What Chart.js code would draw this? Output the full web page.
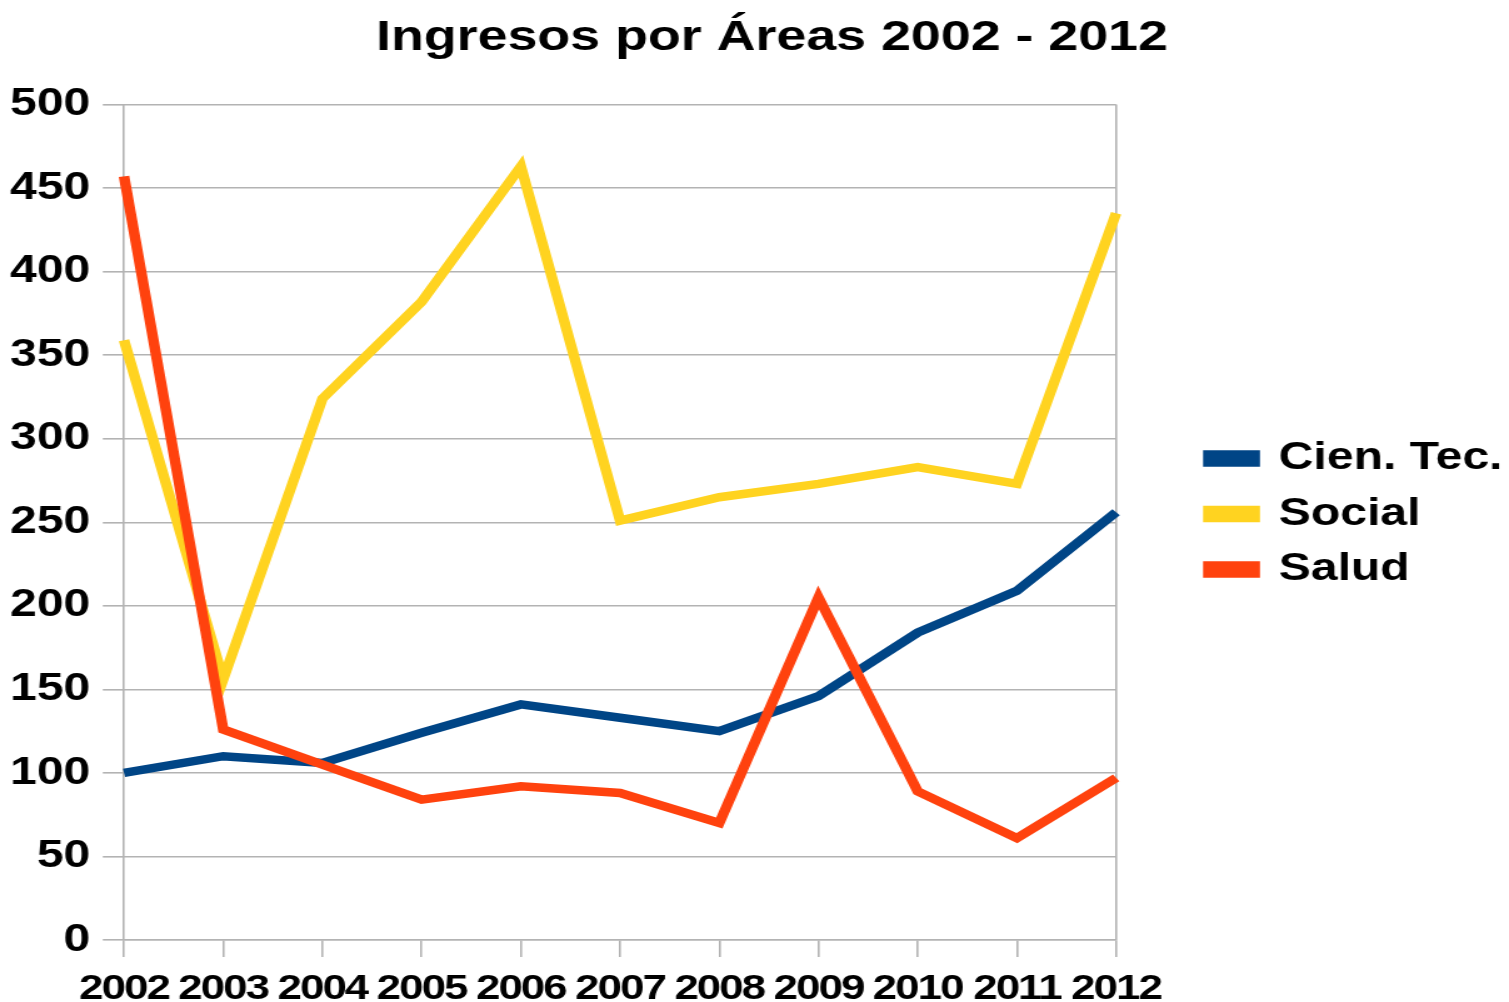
<!DOCTYPE html>
<html>
<head>
<meta charset="utf-8">
<script src="https://cdn.jsdelivr.net/npm/chart.js@4"></script>
<style>
html,body{margin:0;padding:0;background:#fff;overflow:hidden;}
canvas{display:block;}
</style>
</head>
<body>
<!-- the reference is a horizontally stretched image, so draw narrow and stretch with css -->
<canvas id="ingresosChart" width="1207" height="1002" style="width:1509px;height:1002px;"></canvas>
<script>
const years=["2002","2003","2004","2005","2006","2007","2008","2009","2010","2011","2012"];
const cienTec=[100,110,106,124,141,133,125,146,184,209,256];
const social=[359,156,324,382,463,251,265,273,283,273,435];
const salud=[457,126,105,84,92,88,70,205,89,61,97];
const yTicks=[0,50,100,150,200,250,300,350,400,450,500];

const gridGray="#b3b3b3";
const font="'Liberation Sans', Arial, sans-serif";

// nudge the title so it sits where the reference has it
const titleShift={
id:"titleShift",
afterLayout(chart){
const t=chart.titleBlock;
if(t){t.left+=11.6;t.right+=11.6;}
}
};

// x labels are not stretched in the reference, squeeze them a little
const xLabelSqueeze={
id:"xLabelSqueeze",
beforeDraw(chart){chart.ctx.letterSpacing="0px";},
afterDatasetsDraw(chart){chart.ctx.letterSpacing="-1.5px";},
afterDraw(chart){chart.ctx.letterSpacing="0px";}
};

const chart=new Chart(
document.getElementById("ingresosChart"),
{
type:"line",
data:{
labels:years,
datasets:[
{label:"Cien. Tec.",data:cienTec,borderColor:"#004586",backgroundColor:"#004586",order:3},
{label:"Social",data:social,borderColor:"#ffd320",backgroundColor:"#ffd320",order:2},
{label:"Salud",data:salud,borderColor:"#ff420e",backgroundColor:"#ff420e",order:1}
]
},
plugins:[titleShift,xLabelSqueeze],
options:{
responsive:false,
animation:false,
devicePixelRatio:1,
layout:{padding:{left:0,right:-4.8,top:0,bottom:-20}},
elements:{
line:{borderWidth:8.5,tension:0,borderCapStyle:"butt"},
point:{radius:0,hoverRadius:0}
},
plugins:{
title:{
display:true,
text:"Ingresos por Áreas 2002 - 2012",
color:"#000",
font:{family:font,size:43,weight:"bold",lineHeight:1.2},
padding:{top:12,bottom:41}
},
legend:{
position:"right",
title:{display:true,text:" ",font:{size:1},padding:{top:0,bottom:5}},
labels:{
color:"#000",
font:{family:font,size:38.5,weight:"bold"},
boxWidth:37,
boxHeight:8,
padding:17,
sort:(a,b)=>a.datasetIndex-b.datasetIndex
}
},
tooltip:{enabled:false}
},
scales:{
x:{
offset:false,
grid:{
color:(c)=>(c.index===0||c.index===years.length-1)?gridGray:"rgba(0,0,0,0)",
tickColor:gridGray,
tickLength:17,
lineWidth:1.6
},
border:{display:true,color:gridGray,width:1.6},
ticks:{
z:1,
color:"#000",
font:{family:font,size:35,weight:"bold",lineHeight:0.6},
padding:22,
maxRotation:0,
autoSkip:false
}
},
y:{
min:0,
max:500,
afterBuildTicks:(scale)=>{scale.ticks=yTicks.map(v=>({value:v}));},
afterFit:(scale)=>{scale.width=99.2;},
grid:{color:gridGray,tickColor:gridGray,tickLength:17,lineWidth:1.6},
border:{display:false},
ticks:{
color:"#000",
font:{family:font,size:38.5,weight:"bold"},
padding:10
}
},
gap:{
type:"linear",
position:"right",
display:false,
min:0,
max:1,
afterFit:(scale)=>{scale.width=56.8;}
}
}
}
}
);
</script>
</body>
</html>
